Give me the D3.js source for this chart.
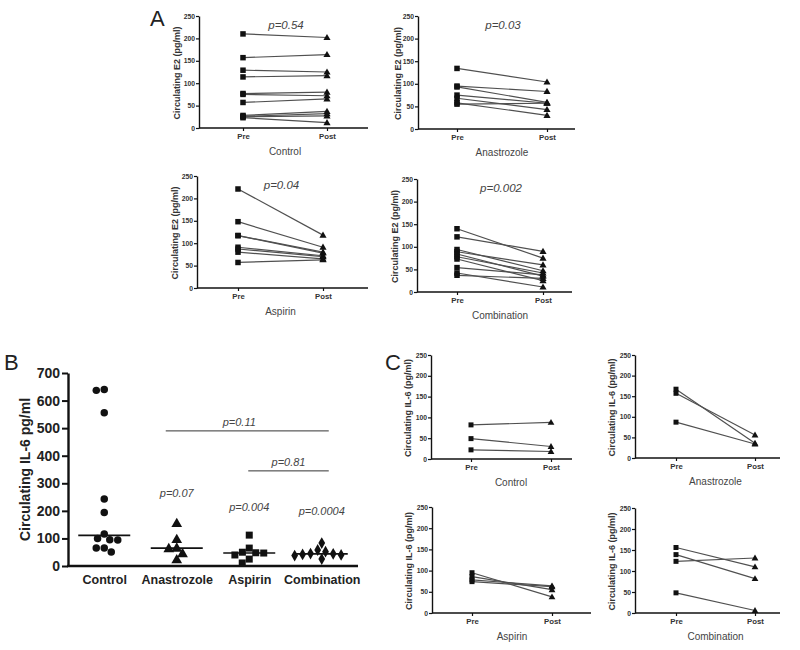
<!DOCTYPE html>
<html><head><meta charset="utf-8">
<script src="https://cdn.jsdelivr.net/npm/d3@7"></script>
<style>body{margin:0;background:#fff}svg{display:block}</style>
</head><body>
<svg id="c" width="800" height="650"></svg>
<script>
// ---------- DATA ----------
const prePost = ["Pre", "Post"];
const pairTicks = [0, 50, 100, 150, 200, 250];

// Panel A : circulating E2 (pg/ml), paired pre/post
const e2ControlPre  = [210, 157, 129, 114, 77, 75, 57, 28, 26, 25, 23];
const e2ControlPost = [202, 164, 125, 117, 80, 72, 65, 37, 32, 27, 12];
const e2AnastPre    = [134, 95, 93, 75, 68, 58, 55];
const e2AnastPost   = [104, 83, 59, 57, 43, 30, 57];
const e2AspPre      = [221, 148, 117, 117, 91, 87, 80, 57];
const e2AspPost     = [118, 91, 80, 78, 72, 70, 65, 63];
const e2CombPre     = [140, 122, 94, 89, 84, 78, 73, 54, 42, 37];
const e2CombPost    = [75, 90, 47, 60, 35, 42, 25, 38, 11, 30];
const e2PValues     = ["p=0.54", "p=0.03", "p=0.04", "p=0.002"];

// Panel B : circulating IL-6 (pg/ml)
const groups = ["Control", "Anastrozole", "Aspirin", "Combination"];
const il6Control = [640, 637, 556, 243, 194, 116, 100, 95, 94, 65, 65, 51];
const il6Anast   = [156, 98, 67, 65, 47, 25];
const il6Asp     = [112, 65, 50, 48, 47, 40, 25, 11];
const il6Comb    = [83, 58, 52, 45, 44, 42, 40, 38, 25];
const il6Medians = [111, 65, 47, 44];
const il6Ticks   = [0, 100, 200, 300, 400, 500, 600, 700];
const groupPValues = ["", "p=0.07", "p=0.004", "p=0.0004"];
const groupPValueAt = [0, 250, 200, 185];
const comparisons = [
  {from: "Anastrozole", to: "Combination", value: 490, label: "p=0.11"},
  {from: "Aspirin", to: "Combination", value: 345, label: "p=0.81"}
];

// Panel C : circulating IL-6 (pg/ml), paired pre/post
const il6ControlPre  = [82, 49, 22];
const il6ControlPost = [88, 30, 18];
const il6AnastPre    = [167, 157, 87];
const il6AnastPost   = [36, 56, 34];
const il6AspPre      = [95, 86, 78, 74];
const il6AspPost     = [38, 55, 64, 62];
const il6CombPre     = [156, 139, 123, 48];
const il6CombPost    = [110, 82, 131, 6];

// ---------- DRAWING ----------
const FONT = "'Liberation Sans', Arial, Helvetica, sans-serif";
const svg = d3.select("#c").attr("font-family", FONT);

function pairedPanel(o) {
  const g = svg.append("g");
  const y = d3.scaleLinear().domain([0, 250]).range([o.yBot, o.yTop]);
  const x = d3.scalePoint().domain(prePost).range([o.preX, o.postX]);

  g.selectAll("line.pair").data(o.pre).join("line")
    .attr("x1", x("Pre")).attr("x2", x("Post"))
    .attr("y1", d => y(d)).attr("y2", (d, i) => y(o.post[i]))
    .attr("stroke", "#505050").attr("stroke-width", 1.2);
  g.selectAll("path.pre").data(o.pre).join("path")
    .attr("d", d3.symbol(d3.symbolSquare, o.sq * o.sq)())
    .attr("transform", d => `translate(${x("Pre")},${y(d)})`).attr("fill", "#111");
  g.selectAll("path.post").data(o.post).join("path")
    .attr("d", d3.symbol(d3.symbolTriangle, o.tri)())
    .attr("transform", d => `translate(${x("Post")},${y(d) + 0.5})`).attr("fill", "#111");

  const ya = g.append("g").attr("transform", `translate(${o.x0},0)`)
    .call(d3.axisLeft(y).tickValues(pairTicks).tickSize(3).tickSizeOuter(0).tickPadding(1));
  ya.select(".domain").attr("stroke", "#111").attr("stroke-width", 1.4);
  ya.selectAll(".tick line").attr("stroke", "#111").attr("stroke-width", 1.2);
  ya.selectAll("text").attr("font-family", FONT).attr("font-size", 6.8).attr("font-weight", "bold").attr("fill", "#333");

  const xa = g.append("g").attr("transform", `translate(0,${o.yBot})`)
    .call(d3.axisBottom(x).tickSize(3).tickSizeOuter(0).tickPadding(2.5));
  xa.select(".domain").remove();
  xa.selectAll(".tick line").attr("stroke", "#111").attr("stroke-width", 1.2);
  xa.selectAll("text").attr("font-family", FONT).attr("font-size", 7.8).attr("font-weight", "bold").attr("fill", "#333");
  g.append("line").attr("x1", o.x0).attr("x2", o.x1).attr("y1", o.yBot).attr("y2", o.yBot)
    .attr("stroke", "#111").attr("stroke-width", 1.4);

  g.append("text").attr("x", (o.preX + o.postX) / 2).attr("y", o.yBot + 27)
    .attr("text-anchor", "middle").attr("font-size", 10).attr("fill", "#444").text(o.title);
  if (o.p) g.append("text").attr("x", (o.preX + o.postX) / 2 + 1).attr("y", o.yTop + 13)
    .attr("text-anchor", "middle").attr("font-size", 11.5).attr("font-style", "italic").attr("fill", "#444").text(o.p);
  g.append("text").attr("transform", `translate(${o.x0 - o.labOff},${(o.yTop + o.yBot) / 2 + 1}) rotate(-90)`)
    .attr("text-anchor", "middle").attr("font-size", 9).attr("font-weight", "bold").attr("fill", "#333")
    .text(o.ylab);
}

const e2Lab = "Circulating E2  (pg/ml)";
const ilLab = "Circulating IL-6 (pg/ml)";
pairedPanel({x0: 199, x1: 368, preX: 243, postX: 327, yTop: 16, yBot: 128, pre: e2ControlPre, post: e2ControlPost,
  title: groups[0], p: e2PValues[0], labOff: 19, ylab: e2Lab, sq: 5.5, tri: 22});
pairedPanel({x0: 418, x1: 575, preX: 457, postX: 547, yTop: 16, yBot: 129, pre: e2AnastPre, post: e2AnastPost,
  title: groups[1], p: e2PValues[1], labOff: 17, ylab: e2Lab, sq: 5.5, tri: 22});
pairedPanel({x0: 197, x1: 368, preX: 238, postX: 323, yTop: 176, yBot: 288, pre: e2AspPre, post: e2AspPost,
  title: groups[2], p: e2PValues[2], labOff: 19, ylab: e2Lab, sq: 5.5, tri: 22});
pairedPanel({x0: 417, x1: 572, preX: 457, postX: 543, yTop: 179, yBot: 292, pre: e2CombPre, post: e2CombPost,
  title: groups[3], p: e2PValues[3], labOff: 19, ylab: e2Lab, sq: 5.5, tri: 22});

pairedPanel({x0: 431, x1: 572, preX: 471, postX: 551, yTop: 355, yBot: 459, pre: il6ControlPre, post: il6ControlPost,
  title: groups[0], p: null, labOff: 20, ylab: ilLab, sq: 5, tri: 20});
pairedPanel({x0: 635, x1: 780, preX: 676, postX: 755, yTop: 355, yBot: 458, pre: il6AnastPre, post: il6AnastPost,
  title: groups[1], p: null, labOff: 20, ylab: ilLab, sq: 5, tri: 20});
pairedPanel({x0: 432, x1: 591, preX: 472, postX: 552, yTop: 507, yBot: 613, pre: il6AspPre, post: il6AspPost,
  title: groups[2], p: null, labOff: 20, ylab: ilLab, sq: 5, tri: 20});
pairedPanel({x0: 635, x1: 780, preX: 676, postX: 755, yTop: 508, yBot: 613, pre: il6CombPre, post: il6CombPost,
  title: groups[3], p: null, labOff: 20, ylab: ilLab, sq: 5, tri: 20});

// ---------- Panel B ----------
(function () {
  const g = svg.append("g");
  const x0 = 68, x1 = 358, yTop = 373, yBot = 566;
  const y = d3.scaleLinear().domain([0, 700]).range([yBot, yTop]);
  const x = d3.scalePoint().domain(groups).range([x0, x1]).padding(0.5);
  const sets = [il6Control, il6Anast, il6Asp, il6Comb];
  const symbols = [d3.symbolCircle, d3.symbolTriangle, d3.symbolSquare, d3.symbolDiamond];
  const sizes = [44, 50, 49, 40];
  const r = 4.0;

  function dodge(vals) {
    const pts = vals.map(v => ({v, y: y(v), dx: 0})).sort((a, b) => b.v - a.v);
    const placed = [];
    for (const p of pts) {
      const cands = [0];
      for (const q of placed) {
        const dy = Math.abs(q.y - p.y);
        if (dy < 2 * r) {
          const w = Math.sqrt(4 * r * r - dy * dy);
          cands.push(q.dx + w, q.dx - w);
        }
      }
      cands.sort((a, b) => Math.abs(a) - Math.abs(b) || a - b);
      for (const c of cands) {
        const ok = placed.every(q => (q.dx - c) ** 2 + (q.y - p.y) ** 2 >= 4 * r * r - 0.01);
        if (ok) { p.dx = c; break; }
      }
      placed.push(p);
    }
    return placed;
  }

  sets.forEach((vals, gi) => {
    const cx = x(groups[gi]);
    const pts = dodge(vals);
    g.selectAll(null).data(pts).join("path")
      .attr("d", d3.symbol(symbols[gi], sizes[gi])())
      .attr("transform", d => `translate(${cx + d.dx},${d.y + (gi === 1 ? 1 : 0)})`)
      .attr("fill", "#111");
    g.append("line").attr("x1", cx - 26).attr("x2", cx + 26)
      .attr("y1", y(il6Medians[gi])).attr("y2", y(il6Medians[gi]))
      .attr("stroke", "#111").attr("stroke-width", 1.6);
    if (groupPValues[gi]) g.append("text").attr("x", cx).attr("y", y(groupPValueAt[gi]))
      .attr("text-anchor", "middle").attr("font-size", 11).attr("font-style", "italic").attr("fill", "#444")
      .text(groupPValues[gi]);
  });

  const extL = [-11, -1];
  comparisons.forEach((c, i) => {
    g.append("line").attr("x1", x(c.from) + extL[i]).attr("x2", x(c.to) + 7)
      .attr("y1", y(c.value)).attr("y2", y(c.value)).attr("stroke", "#333").attr("stroke-width", 1);
    g.append("text").attr("x", (x(c.from) + extL[i] + x(c.to) + 7) / 2 + (i === 0 ? -8 : 0)).attr("y", y(c.value) - 5)
      .attr("text-anchor", "middle").attr("font-size", 11).attr("font-style", "italic").attr("fill", "#444")
      .text(c.label);
  });

  const ya = g.append("g").attr("transform", `translate(${x0},0)`)
    .call(d3.axisLeft(y).tickValues(il6Ticks).tickSize(6).tickSizeOuter(0).tickPadding(2));
  ya.select(".domain").attr("stroke", "#111").attr("stroke-width", 2.4);
  ya.selectAll(".tick line").attr("stroke", "#111").attr("stroke-width", 2);
  ya.selectAll("text").attr("font-family", FONT).attr("font-size", 14).attr("font-weight", "bold").attr("fill", "#222");

  const xa = g.append("g").attr("transform", `translate(0,${yBot})`)
    .call(d3.axisBottom(x).tickSize(0).tickSizeOuter(0).tickPadding(9));
  xa.select(".domain").remove();
  xa.selectAll("text").attr("font-family", FONT).attr("font-size", 12.5).attr("font-weight", "bold").attr("fill", "#222");
  g.append("line").attr("x1", x0 - 1).attr("x2", x1).attr("y1", yBot).attr("y2", yBot)
    .attr("stroke", "#111").attr("stroke-width", 2.4);

  g.append("text").attr("transform", `translate(30,${(yTop + yBot) / 2}) rotate(-90)`)
    .attr("text-anchor", "middle").attr("font-size", 14).attr("font-weight", "bold").attr("fill", "#222")
    .text("Circulating  IL-6 pg/ml");
})();

// panel letters
const letters = [{t: "A", x: 150, y: 26}, {t: "B", x: 4, y: 370}, {t: "C", x: 385, y: 370}];
svg.selectAll("text.letter").data(letters).join("text").attr("class", "letter")
  .attr("x", d => d.x).attr("y", d => d.y).attr("font-size", 22).attr("fill", "#222").text(d => d.t);
</script>
</body></html>
